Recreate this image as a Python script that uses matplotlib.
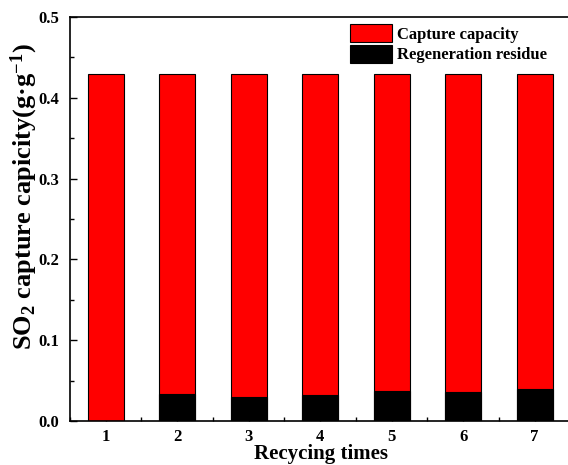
import matplotlib
matplotlib.use("Agg")
import matplotlib.pyplot as plt
from matplotlib.ticker import MultipleLocator, FormatStrFormatter

cycles = [1, 2, 3, 4, 5, 6, 7]
capture_capacity = [0.43, 0.43, 0.43, 0.43, 0.43, 0.43, 0.43]
regeneration_residue = [0.0, 0.034, 0.030, 0.032, 0.0375, 0.0355, 0.039]

plt.rcParams['font.family'] = ['Liberation Serif', 'DejaVu Serif']
plt.rcParams['font.weight'] = 'bold'
plt.rcParams['mathtext.fontset'] = 'custom'
plt.rcParams['mathtext.rm'] = 'Liberation Serif:bold'
plt.rcParams['mathtext.bf'] = 'Liberation Serif:bold'
plt.rcParams['mathtext.it'] = 'Liberation Serif:bold:italic'

fig = plt.figure(figsize=(5.68, 4.65), dpi=100)
ax = fig.add_axes([70/568, 44/465, 504/568, 404/465])

ax.bar(cycles, capture_capacity, width=0.5, color='#ff0000', edgecolor='black',
       linewidth=0.8, label='Capture capacity', zorder=2)
ax.bar(cycles, regeneration_residue, width=0.5, color='black', edgecolor='black',
       linewidth=0.8, label='Regeneration residue', zorder=3)

ax.set_xlim(0.5, 7.55)
ax.set_ylim(0, 0.5)
ax.xaxis.set_major_locator(MultipleLocator(1))
ax.xaxis.set_minor_locator(MultipleLocator(0.5))
ax.yaxis.set_major_locator(MultipleLocator(0.1))
ax.yaxis.set_minor_locator(MultipleLocator(0.05))
ax.yaxis.set_major_formatter(FormatStrFormatter('%.1f'))
ax.tick_params(axis='both', which='both', direction='in', top=False, right=False)
ax.tick_params(axis='both', which='major', length=5, width=1, labelsize=12)
ax.tick_params(axis='y', which='major', pad=8)
ax.tick_params(axis='x', which='major', pad=6)
ax.tick_params(axis='both', which='minor', length=3, width=1)
for lab in ax.get_xticklabels() + ax.get_yticklabels():
    lab.set_fontweight('bold')
for s in ax.spines.values():
    s.set_linewidth(1.2)
ax.spines['right'].set_visible(False)

ax.set_xlabel('Recycing times', fontsize=15, fontweight='bold', va='baseline')
ax.xaxis.set_label_coords((321 - 70) / 504, -(459 - 421) / 404)
ax.set_ylabel(r'SO$_{2}$ capture capicity(g·g$^{-1}$)', fontsize=19, fontweight='bold')
ax.yaxis.set_label_coords((40 - 70) / 504, (421 - 197) / 404)

ax.legend(loc='upper left', bbox_to_anchor=(350/568, 1 - 24/465), bbox_transform=fig.transFigure,
          frameon=False, handlelength=2.5, handleheight=1.3,
          labelspacing=0.12, handletextpad=0.3, borderpad=0, borderaxespad=0,
          prop={'weight': 'bold', 'size': 12})

fig.savefig('out.png', dpi=100)
